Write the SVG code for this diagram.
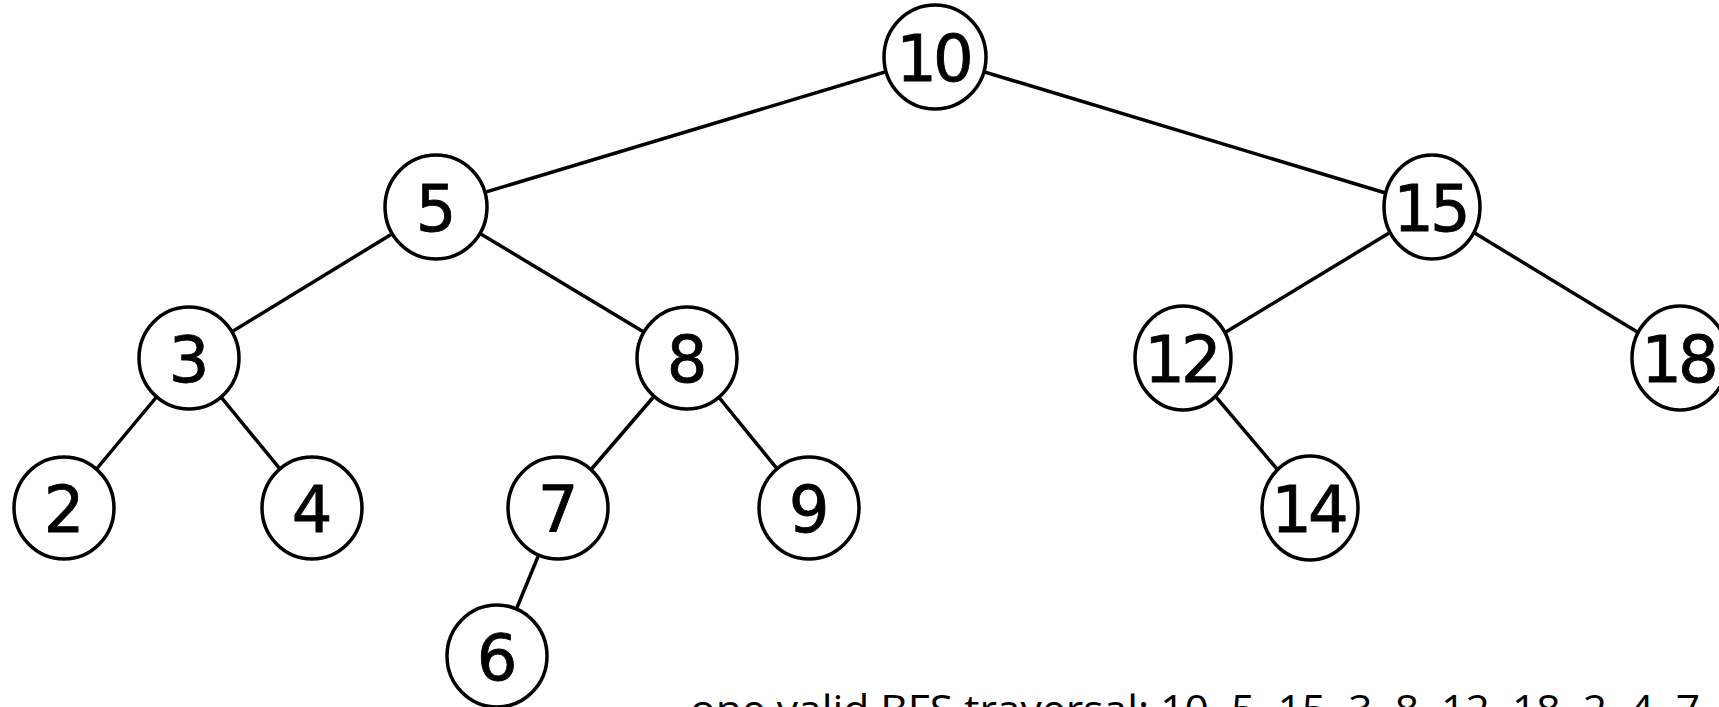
<svg xmlns="http://www.w3.org/2000/svg" width="1719" height="707" viewBox="0 0 1719 707">
<style>
.edge{stroke:#000;stroke-width:3.5;fill:none}
.node{fill:#fff;stroke:#000;stroke-width:3.5}
.lbl{font-family:"DejaVu Sans",sans-serif;font-size:64px;fill:#000;stroke:#000;stroke-width:0.8;text-anchor:middle}
.two{letter-spacing:-4px}
.cap{font-family:"Open Sans",sans-serif;font-size:41px;fill:#000}
</style>
<rect width="1719" height="707" fill="#fff"/>
<g id="edges">
<line class="edge" x1="935" y1="57" x2="436" y2="207"/>
<line class="edge" x1="935" y1="57" x2="1432" y2="207"/>
<line class="edge" x1="436" y1="207" x2="189" y2="358"/>
<line class="edge" x1="436" y1="207" x2="687" y2="358"/>
<line class="edge" x1="1432" y1="207" x2="1183" y2="358"/>
<line class="edge" x1="1432" y1="207" x2="1680" y2="358"/>
<line class="edge" x1="189" y1="358" x2="64" y2="508"/>
<line class="edge" x1="189" y1="358" x2="312" y2="508"/>
<line class="edge" x1="687" y1="358" x2="558" y2="508"/>
<line class="edge" x1="687" y1="358" x2="809" y2="508"/>
<line class="edge" x1="1183" y1="358" x2="1310" y2="508"/>
<line class="edge" x1="558" y1="508" x2="497" y2="656"/>
</g>
<g id="n10"><ellipse class="node" cx="935" cy="57" rx="51" ry="52"/><text class="lbl two" x="933" y="81">10</text></g>
<g id="n5"><ellipse class="node" cx="436" cy="207" rx="51" ry="52"/><text class="lbl" x="436" y="231">5</text></g>
<g id="n15"><ellipse class="node" cx="1432" cy="207" rx="48" ry="52"/><text class="lbl two" x="1430" y="231">15</text></g>
<g id="n3"><ellipse class="node" cx="189" cy="358" rx="50" ry="51"/><text class="lbl" x="189" y="382">3</text></g>
<g id="n8"><ellipse class="node" cx="687" cy="358" rx="50" ry="51"/><text class="lbl" x="687" y="382">8</text></g>
<g id="n12"><ellipse class="node" cx="1183" cy="358" rx="48" ry="52"/><text class="lbl two" x="1181" y="382">12</text></g>
<g id="n18"><ellipse class="node" cx="1680" cy="358" rx="48" ry="52"/><text class="lbl two" x="1678" y="382">18</text></g>
<g id="n2"><ellipse class="node" cx="64" cy="508" rx="50" ry="51"/><text class="lbl" x="64" y="532">2</text></g>
<g id="n4"><ellipse class="node" cx="312" cy="508" rx="50" ry="51"/><text class="lbl" x="312" y="532">4</text></g>
<g id="n7"><ellipse class="node" cx="558" cy="508" rx="50" ry="51"/><text class="lbl" x="558" y="532">7</text></g>
<g id="n9"><ellipse class="node" cx="809" cy="508" rx="50" ry="51"/><text class="lbl" x="809" y="532">9</text></g>
<g id="n14"><ellipse class="node" cx="1310" cy="508" rx="48" ry="52"/><text class="lbl two" x="1308" y="532">14</text></g>
<g id="n6"><ellipse class="node" cx="497" cy="656" rx="50" ry="51"/><text class="lbl" x="497" y="680">6</text></g>
<text class="cap" x="690" y="724" textLength="1010" lengthAdjust="spacingAndGlyphs">one valid BFS traversal: 10, 5, 15, 3, 8, 12, 18, 2, 4, 7</text>
</svg>
